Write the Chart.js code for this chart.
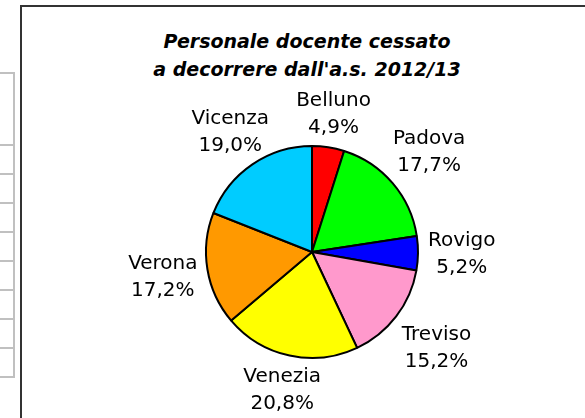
<!DOCTYPE html>
<html lang="it">
<head>
  <meta charset="UTF-8">
  <title>Personale docente cessato</title>
  <script src="https://cdn.jsdelivr.net/npm/chart.js"></script>
  <style>
    html, body { margin: 0; padding: 0; background: #fff; }
    body { width: 585px; height: 418px; position: relative; overflow: hidden; font-family: "DejaVu Sans", Verdana, sans-serif; }
    /* pezzo di tabella a sinistra */
    .hl { position: absolute; left: 0; width: 15px; height: 2px; background: #c0c0c0; }
    .vl { position: absolute; left: 13px; width: 2px; top: 72px; height: 306px; background: #c0c0c0; }
    .frame { position: absolute; left: 20px; top: 5px; width: 580px; height: 430px; border: 2px solid #333; box-sizing: border-box; }
    .title { position: absolute; left: 102px; width: 410px; top: 27px; text-align: center; font-weight: bold; font-style: italic; font-size: 19px; line-height: 28px; color: #000; }
    canvas { position: absolute; left: 0; top: 0; }
  </style>
</head>
<body>
  <div id="tbl"><div class="vl"></div></div>
  <div class="frame"></div>
  <div class="title">Personale docente cessato<br>a decorrere dall'a.s. 2012/13</div>
  <canvas id="pie" width="585" height="418"></canvas>

  <script>
    // dati
    const province = ['Belluno', 'Padova', 'Rovigo', 'Treviso', 'Venezia', 'Verona', 'Vicenza'];
    const quote = [4.9, 17.7, 5.2, 15.2, 20.8, 17.2, 19.0];
    const colori = ['#ff0000', '#00ff00', '#0000ff', '#ff99cc', '#ffff00', '#ff9900', '#00ccff'];

    // righe della tabella a sinistra (solo decorazione)
    const righe = [72, 144, 173, 202, 231, 260, 289, 318, 347, 376];
    const tbl = document.getElementById('tbl');
    righe.forEach(y => {
      const d = document.createElement('div');
      d.className = 'hl';
      d.style.top = y + 'px';
      tbl.appendChild(d);
    });

    const fmt = v => v.toFixed(1).replace('.', ',') + '%';

    // etichette fuori dalla torta, come in Excel
    const etichette = {
      id: 'etichette',
      afterDatasetsDraw(chart) {
        const ctx = chart.ctx;
        const meta = chart.getDatasetMeta(0);
        ctx.save();
        ctx.font = '20px "DejaVu Sans", Verdana, sans-serif';
        ctx.fillStyle = '#000';
        ctx.textAlign = 'center';
        ctx.textBaseline = 'middle';
        meta.data.forEach((arc, i) => {
          const p = arc.getProps(['x', 'y', 'startAngle', 'endAngle', 'outerRadius'], true);
          const a = (p.startAngle + p.endAngle) / 2;
          const l1 = chart.data.labels[i];
          const l2 = fmt(chart.data.datasets[0].data[i]);
          const hw = Math.max(ctx.measureText(l1).width, ctx.measureText(l2).width) / 2 + 2;
          const hh = 26;
          const c = Math.abs(Math.cos(a)), s = Math.abs(Math.sin(a));
          const ext = Math.min(c > 0.001 ? hw / c : 1e9, s > 0.001 ? hh / s : 1e9);
          const d = p.outerRadius + 8 + ext;
          const x = p.x + Math.cos(a) * d;
          const y = p.y + Math.sin(a) * d;
          ctx.fillText(l1, x, y - 13);
          ctx.fillText(l2, x, y + 14);
        });
        ctx.restore();
      }
    };

    const ctx = document.getElementById('pie').getContext('2d');
    const grafico = new Chart(ctx, {
      type: 'pie',
      data: {
        labels: province,
        datasets: [{
          data: quote,
          backgroundColor: colori,
          borderColor: '#000',
          borderWidth: 2
        }]
      },
      options: {
        responsive: false,
        animation: false,
        radius: 106,
        layout: { padding: { left: 206, right: 167, top: 146, bottom: 60 } },
        plugins: {
          legend: { display: false },
          tooltip: { enabled: false }
        }
      },
      plugins: [etichette]
    });
  </script>
</body>
</html>
